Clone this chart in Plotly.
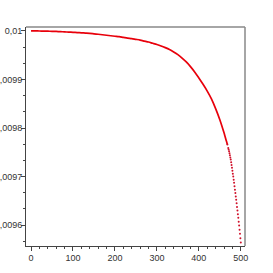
import plotly.graph_objects as go

x_vals = [0, 10, 20, 30, 40, 50, 60, 70, 80, 90, 100, 110, 120, 130, 140, 150,
          160, 170, 180, 190, 200, 210, 220, 230, 240, 250, 260, 270, 280, 290,
          300, 310, 320, 330, 340, 350, 360, 370, 380, 390, 400, 410, 420, 430,
          440, 450, 460, 462, 464, 466, 468, 470, 471, 472, 473, 474, 475, 476,
          477, 478, 479, 480, 481, 482, 483, 484, 485, 486, 487, 488, 489, 490,
          491, 492, 493, 494, 495, 496, 497, 498, 499, 500]
y_vals = [0.0100000, 0.0099999, 0.0099998, 0.0099996, 0.0099994, 0.0099991,
          0.0099988, 0.0099984, 0.0099980, 0.0099975, 0.0099970, 0.0099965,
          0.0099960, 0.0099955, 0.0099950, 0.0099940, 0.0099930, 0.0099920,
          0.0099910, 0.0099900, 0.0099890, 0.0099880, 0.0099865, 0.0099850,
          0.0099840, 0.0099825, 0.0099810, 0.0099790, 0.0099770, 0.0099745,
          0.0099720, 0.0099690, 0.0099655, 0.0099615, 0.0099565, 0.0099510,
          0.0099440, 0.0099360, 0.0099265, 0.0099155, 0.0099030, 0.0098900,
          0.0098760, 0.0098600, 0.0098400, 0.0098170, 0.0097900, 0.0097840,
          0.0097780, 0.0097720, 0.0097660, 0.0097590, 0.0097555, 0.0097520,
          0.0097480, 0.0097440, 0.0097395, 0.0097350, 0.0097295, 0.0097240,
          0.0097180, 0.0097120, 0.0097060, 0.0097000, 0.0096935, 0.0096870,
          0.0096800, 0.0096730, 0.0096660, 0.0096590, 0.0096520, 0.0096450,
          0.0096375, 0.0096300, 0.0096225, 0.0096150, 0.0096070, 0.0095990,
          0.0095905, 0.0095820, 0.0095730, 0.0095640]

x_tick_vals = [0, 100, 200, 300, 400, 500]
x_tick_text = ["0", "100", "200", "300", "400", "500"]
y_tick_vals = [0.0096, 0.0097, 0.0098, 0.0099, 0.01]
y_tick_text = ["0,0096", "0,0097", "0,0098", "0,0099", "0,01"]

split = x_vals.index(468)

fig = go.Figure()
fig.add_trace(go.Scatter(
    x=x_vals[:split + 1], y=y_vals[:split + 1], mode="lines",
    line=dict(color="#e8000b", width=1.7, shape="spline", smoothing=0.8),
    hoverinfo="skip", showlegend=False))
fig.add_trace(go.Scatter(
    x=x_vals[split:], y=y_vals[split:], mode="markers",
    marker=dict(color="#d0102a", size=2.0, line=dict(width=0)),
    hoverinfo="skip", showlegend=False))

font = dict(family="Liberation Sans, Arial, sans-serif", size=9, color="#333333")

fig.update_layout(
    width=273, height=273,
    margin=dict(l=26, r=28, t=27, b=27),
    paper_bgcolor="white", plot_bgcolor="white",
    font=font,
    hovermode=False,
    xaxis=dict(range=[-12, 510], tickvals=x_tick_vals, ticktext=x_tick_text,
               showgrid=False, zeroline=False, showline=True, linecolor="#444444",
               linewidth=1, ticks="outside", ticklen=4, tickcolor="#444444",
               automargin=False, tickfont=font, ticklabelstandoff=-1,
               minor=dict(dtick=20, tick0=0, ticks="outside", ticklen=2,
                          tickcolor="#444444", showgrid=False)),
    yaxis=dict(range=[0.009557, 0.010008], tickvals=y_tick_vals, ticktext=y_tick_text,
               showgrid=False, zeroline=False, showline=True, linecolor="#444444",
               linewidth=1, ticks="outside", ticklen=4, tickcolor="#444444",
               automargin=False, tickfont=font, ticklabelstandoff=-3,
               minor=dict(dtick=0.0001 / 3, tick0=0.0096, ticks="outside", ticklen=2,
                          tickcolor="#444444", showgrid=False)),
    shapes=[
        dict(type="line", xref="paper", yref="paper", x0=0, x1=1, y0=1, y1=1,
             line=dict(color="#888888", width=1.5)),
        dict(type="line", xref="paper", yref="paper", x0=1, x1=1, y0=0, y1=1,
             line=dict(color="#888888", width=1.5)),
    ],
)

fig.write_html("out.html", config={"displayModeBar": False, "staticPlot": True},
               post_script="document.body.style.margin='0';document.body.style.padding='0';")
